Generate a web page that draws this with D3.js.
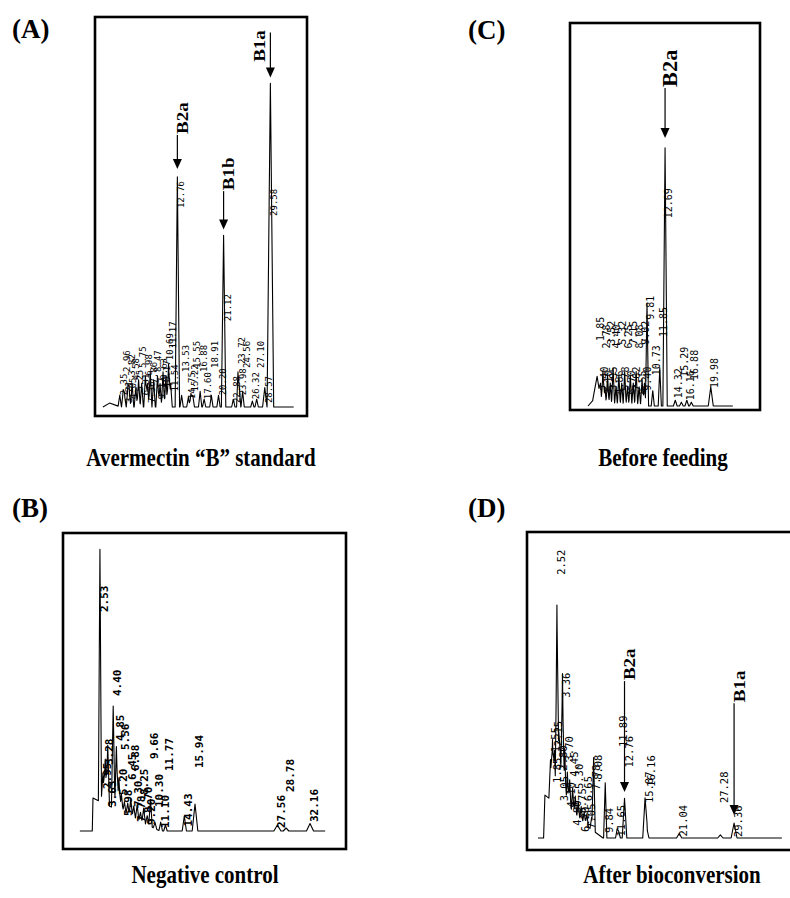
<!DOCTYPE html>
<html><head><meta charset="utf-8">
<script src="https://cdn.jsdelivr.net/npm/d3@7/dist/d3.min.js"></script>
<style>html,body{margin:0;padding:0;background:#fff}</style>
</head><body><svg id="chart" width="790" height="898"></svg>
<script>
// ===================== DATA =====================
// Panel (A) Avermectin "B" standard: retention time (min), peak height (% of scale), half width (min), label level (%)
const aTimes = [2.35,2.96,3.21,3.82,4.05,4.58,5.25,5.75,6.31,6.98,7.36,7.86,8.47,9.17,9.63,10.17,10.69,11.17,11.54,12.76,13.53,14.75,15.22,15.55,16.88,17.60,18.91,20.20,21.12,22.88,23.72,23.98,24.56,26.32,27.10,28.57,29.58];
const aHeights = [3,4,3,5,4,6,5,7,6,8,6,9,7,8,6,9,8,11,6,59,3,2.5,3.5,3,4,2,3,3,44,2,9,5,4,1.5,2,5,83];
const aWidths = [0.3,0.3,0.3,0.3,0.3,0.3,0.3,0.3,0.3,0.3,0.3,0.3,0.3,0.3,0.3,0.3,0.3,0.3,0.3,0.4,0.3,0.3,0.3,0.3,0.3,0.3,0.3,0.3,0.4,0.3,0.25,0.25,0.3,0.3,0.3,0.4,0.6];
const aLabelLevels = [3,9,1,8,2,7,4,10,3,8,1,6,9,2,7,5,12,15,4,51,9,2,4,10,9,2,10,3,22,1,11,3,10,2,10,1,49];
const aHumps = [[-0.7,0.5,2.5,1]];           // [start, apex, end, height]
const aMarkerNames = ["B2a","B1b","B1a"];
const aMarkerTimes = [12.76,21.12,29.58];
const aMarkerTextLevels = [70,55.6,88.5];
const aMarkerTipLevels = [61,45.5,84.5];

// Panel (C) Before feeding
const cTimes = [1.85,2.40,2.78,3.10,3.52,3.95,4.40,4.86,5.32,5.78,6.25,6.70,7.15,7.62,8.08,8.55,9.02,9.40,9.81,10.73,11.85,12.69,14.32,15.29,16.16,16.88,19.98];
const cHeights = [6.8,4,9,5,8,6,10,5,8,6,9,5,8,6,9,5,7,6,26.9,4,10,67.4,1.5,1,1.5,1,5];
const cWidths = [0.7,0.25,0.25,0.25,0.25,0.25,0.25,0.25,0.25,0.25,0.25,0.25,0.25,0.25,0.25,0.25,0.25,0.25,0.25,0.25,0.25,0.35,0.3,0.3,0.3,0.3,0.4];
const cLabelLevels = [17,4,15,3,16,4,15,3,16,4,15,3,16,4,15,3,16,4,22.5,8,18,49,2,7.6,1.5,6.8,4.7];
const cHumps = [[0.4,1.2,3.0,1.5]];
const cMarkerNames = ["B2a"];
const cMarkerTimes = [12.69];
const cMarkerTextLevels = [83.3];
const cMarkerTipLevels = [70];

// Panel (B) Negative control
const bTimes = [2.53,2.95,3.28,3.63,4.40,4.85,5.20,5.56,5.98,6.45,6.88,7.30,7.78,8.25,8.70,9.20,9.66,10.30,11.10,11.77,14.43,15.94,27.56,28.78,32.16];
const bHeights = [84,10,15,20,34,21,11,6,4,4,6,4,5,3,5,3,9,2,3,2,5,9,2,1,2.5];
const bWidths = [0.22,0.25,0.25,0.25,0.25,0.25,0.25,0.25,0.25,0.25,0.25,0.25,0.25,0.25,0.25,0.25,0.25,0.25,0.25,0.25,0.3,0.4,0.5,0.4,0.5];
const bLabelLevels = [73,14,22,8,45,30,12,27,5,17,20,8,3,12,6,2,24,8,1,20,1.5,21,1,13,3];
const bHumps = [[1.45,1.55,11,11]];
const bMarkerNames = [];
const bMarkerTimes = [];
const bMarkerTextLevels = [];
const bMarkerTipLevels = [];

// Panel (D) After bioconversion
const dTimes = [1.55,1.85,2.15,2.52,2.80,3.05,3.36,3.70,4.10,4.45,4.90,5.30,5.75,6.20,6.65,7.05,7.78,8.08,9.84,11.65,11.89,12.76,15.87,16.16,21.04,27.28,29.36];
const dHeights = [13,20,17,65,24,17,44,20,13,11,9,7,6,5,4,4,4,24,18,3,2,13,13,3,1.5,1,4.9];
const dWidths = [0.25,0.25,0.25,0.25,0.25,0.25,0.25,0.25,0.25,0.25,0.25,0.25,0.25,0.25,0.25,0.25,0.25,0.25,0.25,0.25,0.25,0.35,0.35,0.3,0.4,0.4,0.45];
const dLabelLevels = [28,18,30,86,22,12,45.8,25,10,20,4,16,8,2,12,3,15.7,19,1.6,0.5,29.7,23,11.4,16.7,0.5,11.4,0.3];
const dHumps = [[0.5,0.7,9.5,14]];
const dMarkerNames = ["B2a","B1a"];
const dMarkerTimes = [12.76,29.36];
const dMarkerTextLevels = [51.6,44.4];
const dMarkerTipLevels = [15,7.5];

const panelLetters = ["(A)","(C)","(B)","(D)"];
const panelTitles = ["Avermectin \u201CB\u201D standard","Before feeding","Negative control","After bioconversion"];

// ===================== LAYOUT =====================
const panels = [
  {times:aTimes,heights:aHeights,widths:aWidths,levels:aLabelLevels,humps:aHumps,
   mNames:aMarkerNames,mTimes:aMarkerTimes,mText:aMarkerTextLevels,mTip:aMarkerTipLevels,
   frame:[95,17,307,416], baseline:407, top:17, xAt0:106.8, xAt30:272.7, tStart:-0.7, tEnd:33.8,
   lblSize:9, lblWeight:"normal", lblDx:7, mSize:17, mSide:["above","above","left"], mLineTop:[null,null,96],
   letter:[12,38], title:[201,466]},
  {times:cTimes,heights:cHeights,widths:cWidths,levels:cLabelLevels,humps:cHumps,
   mNames:cMarkerNames,mTimes:cMarkerTimes,mText:cMarkerTextLevels,mTip:cMarkerTipLevels,
   frame:[570,23,760,410], baseline:406, top:23, xAt0:585.5, xAt30:773.6, tStart:0.4, tEnd:23.5,
   lblSize:10, lblWeight:"normal", lblDx:7, mSize:20, mSide:["above"], mLineTop:[null],
   letter:[468,39], title:[663,466]},
  {times:bTimes,heights:bHeights,widths:bWidths,levels:bLabelLevels,humps:bHumps,
   mNames:bMarkerNames,mTimes:bMarkerTimes,mText:bMarkerTextLevels,mTip:bMarkerTipLevels,
   frame:[63,533,346,849], baseline:831, top:531, xAt0:82, xAt30:294.7, tStart:-0.3, tEnd:34.3,
   lblSize:11, lblWeight:"bold", lblDx:8, mSize:17, mSide:[], mLineTop:[],
   letter:[12,517], title:[205,883]},
  {times:dTimes,heights:dHeights,widths:dWidths,levels:dLabelLevels,humps:dHumps,
   mNames:dMarkerNames,mTimes:dMarkerTimes,mText:dMarkerTextLevels,mTip:dMarkerTipLevels,
   frame:[527,532,795,850], baseline:838, top:532, xAt0:540.3, xAt30:738.3, tStart:-0.35, tEnd:36.6,
   lblSize:10.5, lblWeight:"normal", lblDx:8, mSize:17, mSide:["above","above"], mLineTop:[null,null],
   letter:[468,517], title:[672,883]}
];

const svg = d3.select("#chart");
svg.append("rect").attr("width",790).attr("height",898).attr("fill","#fff");

function drawPanel(p, idx){
  const g = svg.append("g");
  const x = d3.scaleLinear().domain([0,30]).range([p.xAt0, p.xAt30]);
  const y = d3.scaleLinear().domain([0,100]).range([p.baseline, p.top]);

  // frame
  const [fx0,fy0,fx1,fy1] = p.frame;
  g.append("rect").attr("x",fx0).attr("y",fy0).attr("width",fx1-fx0).attr("height",fy1-fy0)
    .attr("fill","none").attr("stroke","#000").attr("stroke-width",2.6);

  // trace: piecewise-linear sum of the peak list
  let bps = [p.tStart, p.tEnd];
  p.times.forEach((t,i)=>{ const w=p.widths[i]; bps.push(t-w,t,t+w); });
  p.humps.forEach(h=>bps.push(h[0],h[1],h[2]));
  bps = Array.from(new Set(bps.filter(s=>s>=p.tStart && s<=p.tEnd))).sort((a,b)=>a-b);
  const val = s => {
    let v = 0;
    p.times.forEach((t,i)=>{ const w=p.widths[i], d=Math.abs(s-t); if(d<w) v += p.heights[i]*(1-d/w); });
    p.humps.forEach(h=>{
      if(s>h[0] && s<=h[1]) v += h[3]*(s-h[0])/(h[1]-h[0]);
      else if(s>h[1] && s<h[2]) v += h[3]*(h[2]-s)/(h[2]-h[1]);
    });
    return v;
  };
  const pts = bps.map(s=>[s,val(s)]);
  g.append("path").datum(pts)
    .attr("d", d3.line().x(d=>x(d[0])).y(d=>y(d[1])))
    .attr("fill","none").attr("stroke","#000").attr("stroke-width",1.1).attr("stroke-linejoin","round");

  // retention-time labels (rotated)
  p.times.forEach((t,i)=>{
    const lv = p.levels[i];
    if(lv==null) return;
    g.append("text")
      .attr("transform",`translate(${x(t)+p.lblDx},${y(lv)}) rotate(-90)`)
      .attr("font-family","'DejaVu Sans Mono', 'Liberation Mono', monospace")
      .attr("font-size",p.lblSize).attr("font-weight",p.lblWeight)
      .attr("fill","#000")
      .text(t.toFixed(2));
  });

  // compound markers with arrows
  p.mNames.forEach((name,i)=>{
    const px = x(p.mTimes[i]);
    const tipY = y(p.mTip[i]);
    const textY = y(p.mText[i]);
    const cap = p.mSize*0.62;
    let lineTop;
    if(p.mSide[i]==="left"){
      lineTop = y(p.mLineTop[i]);
      g.append("text")
        .attr("transform",`translate(${px-5},${textY}) rotate(-90) scale(1.12,1)`)
        .attr("font-family","'Liberation Serif','Times New Roman',serif").attr("font-weight","bold")
        .attr("font-size",p.mSize).text(name);
    } else {
      lineTop = textY + 1;
      g.append("text")
        .attr("transform",`translate(${px+cap},${textY}) rotate(-90) scale(1.12,1)`)
        .attr("font-family","'Liberation Serif','Times New Roman',serif").attr("font-weight","bold")
        .attr("font-size",p.mSize).text(name);
    }
    g.append("line").attr("x1",px).attr("x2",px).attr("y1",lineTop).attr("y2",tipY-8)
      .attr("stroke","#000").attr("stroke-width",1.2);
    g.append("path").attr("d",`M${px},${tipY} L${px-4.5},${tipY-10} L${px+4.5},${tipY-10} Z`).attr("fill","#000");
  });

  // panel letter and title
  svg.append("text").attr("transform",`translate(${p.letter[0]},${p.letter[1]}) scale(1,1.05)`)
    .attr("font-family","'Liberation Serif','Times New Roman',serif").attr("font-weight","bold")
    .attr("font-size",27).text(panelLetters[idx]);
  svg.append("text").attr("transform",`translate(${p.title[0]},${p.title[1]}) scale(1,1.18)`)
    .attr("text-anchor","middle")
    .attr("font-family","'Liberation Serif','Times New Roman',serif").attr("font-weight","bold")
    .attr("font-size",21).text(panelTitles[idx]);
}
panels.forEach(drawPanel);
</script></body></html>
